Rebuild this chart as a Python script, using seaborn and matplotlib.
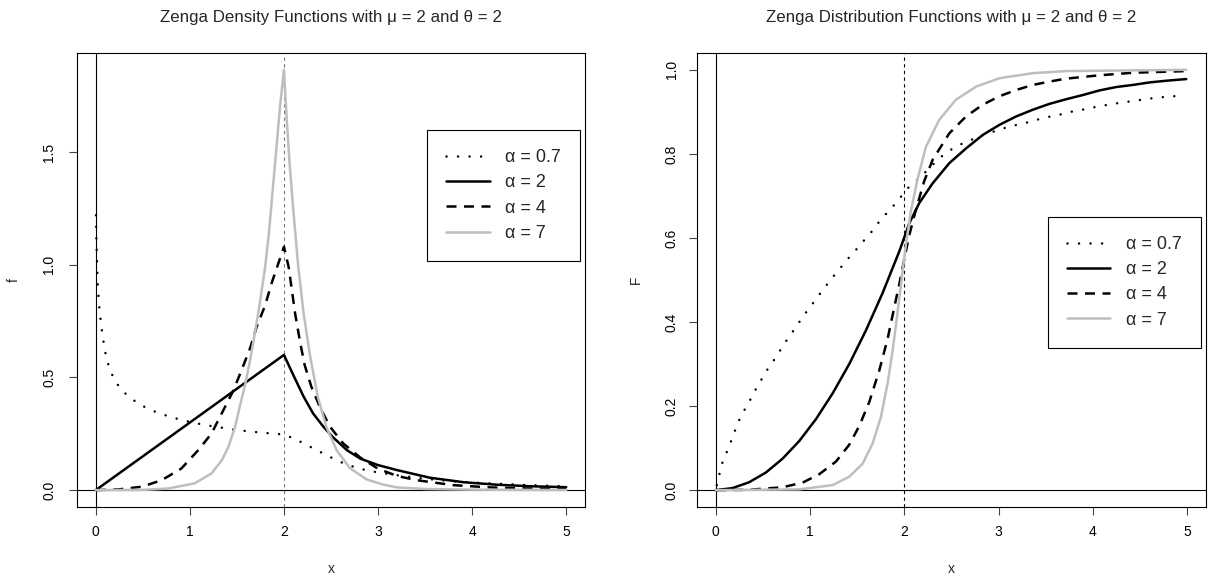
import matplotlib
matplotlib.use("Agg")
import numpy as np
import pandas as pd
import matplotlib.pyplot as plt
import seaborn as sns

# Zenga densities, mu = 2, theta = 2
dens_x_07 = [0.002, 0.004, 0.007, 0.011, 0.015, 0.02, 0.027, 0.035, 0.05, 0.067,
             0.085, 0.11, 0.149, 0.2, 0.266, 0.351, 0.45, 0.55, 0.66, 0.77,
             0.887, 1.0, 1.11, 1.23, 1.34, 1.46, 1.58, 1.69, 1.82, 1.93,
             2.0, 2.11, 2.22, 2.33, 2.44, 2.56, 2.67, 2.79, 2.9, 3.02,
             3.14, 3.25, 3.37, 3.48, 3.61, 3.8, 4.0, 4.19, 4.4, 4.55,
             4.75, 4.9, 5.0]
dens_y_07 = [1.22, 1.16, 1.10, 1.04, 0.98, 0.92, 0.87, 0.82, 0.76, 0.70,
             0.65, 0.59, 0.535, 0.488, 0.448, 0.414, 0.385, 0.362, 0.343, 0.328,
             0.314, 0.303, 0.293, 0.284, 0.277, 0.269, 0.263, 0.258, 0.253, 0.249,
             0.247, 0.228, 0.205, 0.181, 0.158, 0.132, 0.113, 0.097, 0.086, 0.077,
             0.07, 0.063, 0.057, 0.051, 0.046, 0.039, 0.034, 0.03, 0.026, 0.023,
             0.02, 0.018, 0.017]

dens_x_2 = [0.0, 2.0, 2.05, 2.10, 2.21, 2.31, 2.42, 2.52, 2.67, 2.81,
            3.0, 3.2, 3.55, 3.91, 4.26, 4.62, 5.0]
dens_y_2 = [0.0, 0.6, 0.555, 0.51, 0.414, 0.34, 0.281, 0.235, 0.177, 0.14,
            0.111, 0.089, 0.055, 0.035, 0.024, 0.017, 0.013]

dens_x_4 = [0.0, 0.24, 0.49, 0.70, 0.91, 1.09, 1.23, 1.35, 1.46, 1.55,
            1.64, 1.71, 1.80, 1.87, 1.94, 2.0, 2.05, 2.08, 2.12, 2.17,
            2.22, 2.29, 2.38, 2.49, 2.63, 2.81, 3.0, 3.2, 3.41, 3.8,
            4.19, 4.62, 5.0]
dens_y_4 = [0.0, 0.003, 0.015, 0.044, 0.096, 0.178, 0.251, 0.35, 0.44, 0.533,
            0.63, 0.725, 0.82, 0.92, 1.006, 1.08, 0.99, 0.9, 0.78, 0.66,
            0.555, 0.46, 0.37, 0.281, 0.207, 0.145, 0.095, 0.063, 0.044, 0.022,
            0.012, 0.007, 0.005]

dens_x_7 = [0.0, 0.5, 0.77, 1.05, 1.23, 1.34, 1.41, 1.48, 1.53, 1.59,
            1.64, 1.69, 1.74, 1.80, 1.84, 1.88, 1.92, 1.96, 2.0, 2.03,
            2.06, 2.10, 2.15, 2.21, 2.28, 2.36, 2.45, 2.56, 2.70, 2.88,
            3.05, 3.2, 3.5, 4.0, 5.0]
dens_y_7 = [0.0, 0.001, 0.007, 0.03, 0.074, 0.133, 0.192, 0.281, 0.37, 0.473,
            0.577, 0.695, 0.82, 0.99, 1.14, 1.33, 1.52, 1.71, 1.865, 1.64,
            1.45, 1.24, 1.0, 0.78, 0.59, 0.414, 0.281, 0.177, 0.098, 0.047,
            0.025, 0.012, 0.005, 0.002, 0.0005]

# Zenga distribution functions
cdf_x_07 = [0.01, 0.04, 0.071, 0.124, 0.166, 0.205, 0.248, 0.301, 0.354, 0.407,
            0.471, 0.531, 0.594, 0.662, 0.725, 0.789, 0.856, 0.924, 0.991, 1.062,
            1.132, 1.203, 1.274, 1.352, 1.426, 1.5, 1.575, 1.653, 1.727, 1.805,
            1.886, 1.964, 2.024, 2.116, 2.211, 2.3, 2.406, 2.494, 2.6, 2.707,
            2.813, 2.919, 3.025, 3.131, 3.237, 3.343, 3.467, 3.574, 3.68, 3.786,
            3.91, 4.016, 4.14, 4.246, 4.37, 4.494, 4.618, 4.742, 4.848, 4.972]
cdf_y_07 = [0.012, 0.04, 0.067, 0.095, 0.119, 0.143, 0.167, 0.19, 0.21, 0.234,
            0.258, 0.282, 0.302, 0.325, 0.348, 0.369, 0.39, 0.413, 0.433, 0.454,
            0.476, 0.496, 0.516, 0.537, 0.557, 0.575, 0.595, 0.615, 0.637, 0.657,
            0.677, 0.698, 0.716, 0.734, 0.754, 0.774, 0.796, 0.81, 0.823, 0.833,
            0.843, 0.851, 0.859, 0.866, 0.871, 0.877, 0.885, 0.89, 0.895, 0.901,
            0.906, 0.911, 0.916, 0.92, 0.924, 0.928, 0.932, 0.935, 0.937, 0.939]

cdf_x_2 = [0.0, 0.177, 0.354, 0.531, 0.708, 0.885, 1.062, 1.238, 1.415, 1.592,
           1.769, 1.946, 2.052, 2.158, 2.3, 2.477, 2.654, 2.831, 3.008, 3.185,
           3.362, 3.539, 3.716, 3.893, 4.07, 4.246, 4.423, 4.6, 4.777, 4.99]
cdf_y_2 = [0.0, 0.005, 0.019, 0.042, 0.075, 0.117, 0.169, 0.23, 0.3, 0.38,
           0.469, 0.568, 0.635, 0.683, 0.73, 0.778, 0.813, 0.845, 0.869, 0.889,
           0.905, 0.919, 0.93, 0.94, 0.951, 0.959, 0.964, 0.97, 0.974, 0.978]

cdf_x_4 = [0.0, 0.354, 0.708, 0.92, 1.097, 1.274, 1.415, 1.522, 1.628, 1.734,
           1.822, 1.893, 1.946, 2.0, 2.05, 2.12, 2.21, 2.3, 2.477, 2.654,
           2.831, 3.008, 3.185, 3.362, 3.539, 3.716, 4.07, 4.423, 4.99]
cdf_y_4 = [0.0, 0.001, 0.007, 0.018, 0.038, 0.068, 0.108, 0.153, 0.21, 0.285,
           0.36, 0.435, 0.49, 0.55, 0.605, 0.665, 0.735, 0.786, 0.849, 0.889,
           0.917, 0.937, 0.952, 0.964, 0.972, 0.979, 0.987, 0.993, 0.997]

cdf_x_7 = [0.0, 0.885, 1.238, 1.415, 1.557, 1.663, 1.752, 1.822, 1.876, 1.929,
           1.975, 2.017, 2.07, 2.14, 2.229, 2.37, 2.548, 2.76, 3.008, 3.362,
           3.716, 4.99]
cdf_y_7 = [0.0, 0.002, 0.012, 0.032, 0.063, 0.111, 0.175, 0.254, 0.333, 0.425,
           0.51, 0.585, 0.665, 0.74, 0.817, 0.881, 0.929, 0.96, 0.98, 0.992,
           0.997, 1.0]

labels = ["α = 0.7", "α = 2", "α = 4", "α = 7"]

sns.set_style("ticks")
plt.rcParams['font.family'] = ['Liberation Sans', 'DejaVu Sans']

fig = plt.figure(figsize=(12.08, 5.77), dpi=100)
ax1 = fig.add_axes([77 / 1208, 1 - 507 / 577, 508 / 1208, 454 / 577])
ax2 = fig.add_axes([697 / 1208, 1 - 507 / 577, 509 / 1208, 454 / 577])

line_styles = [
    dict(color='black', linestyle=(0, (0.01, 4.6)), dash_capstyle='round'),
    dict(color='black', linestyle='-'),
    dict(color='black', linestyle=(0, (4, 3))),
    dict(color='#bebebe', linestyle='-'),
]

dens = [(dens_x_07, dens_y_07), (dens_x_2, dens_y_2), (dens_x_4, dens_y_4), (dens_x_7, dens_y_7)]
cdfs = [(cdf_x_07, cdf_y_07), (cdf_x_2, cdf_y_2), (cdf_x_4, cdf_y_4), (cdf_x_7, cdf_y_7)]


def draw_panel(ax, curves, vline_color, ylim, yticks, ylab, title, legend_top, ypad):
    ax.axhline(0, color='black', lw=0.8, zorder=1)
    ax.axvline(0, color='black', lw=0.8, zorder=1)
    ax.axvline(2, color=vline_color, lw=0.8, linestyle=(0, (3, 3)), zorder=1)
    for (xs, ys), lab, st in zip(curves, labels, line_styles):
        sns.lineplot(x=xs, y=ys, ax=ax, sort=False, estimator=None, errorbar=None,
                     lw=1.8, label=lab, zorder=3, **st)
    ax.set_xlim(-0.2, 5.2)
    ax.set_ylim(*ylim)
    ax.set_xticks([0, 1, 2, 3, 4, 5])
    ax.set_yticks(yticks)
    ax.set_yticklabels([f"{t:.1f}" for t in yticks], rotation=90, va='center')
    ax.tick_params(axis='both', direction='out', length=6, width=0.8,
                   color='#444444', labelsize=10, labelcolor='black')
    ax.tick_params(axis='x', pad=7.3)
    ax.tick_params(axis='y', pad=ypad)
    for sp in ax.spines.values():
        sp.set_color('black')
        sp.set_linewidth(0.8)
    ax.set_xlabel("x", fontsize=10)
    ax.set_ylabel(ylab, fontsize=10)
    ax.xaxis.set_label_coords(0.5, -0.121)
    ax.set_title(title, fontsize=12.2, pad=22)
    handles, labs = ax.get_legend_handles_labels()
    leg = ax.legend(handles, labs, loc='upper right', bbox_to_anchor=(0.99, legend_top),
                    borderaxespad=0, fontsize=13, frameon=True, fancybox=False,
                    edgecolor='black', framealpha=1, handlelength=2.4,
                    handletextpad=0.87, labelspacing=0.46, borderpad=1.05)
    leg.get_frame().set_linewidth(0.8)


draw_panel(ax1, dens, '#777777', (-0.075, 1.94), [0.0, 0.5, 1.0, 1.5], "f",
           "Zenga Density Functions with μ = 2 and θ = 2", 0.83, 9)
ax1.yaxis.set_label_coords(-0.111, 0.5)

draw_panel(ax2, cdfs, 'black', (-0.04, 1.04), [0.0, 0.2, 0.4, 0.6, 0.8, 1.0], "F",
           "Zenga Distribution Functions with μ = 2 and θ = 2", 0.639, 7)
ax2.yaxis.set_label_coords(-0.107, 0.5)

fig.savefig("out.png", dpi=100)
